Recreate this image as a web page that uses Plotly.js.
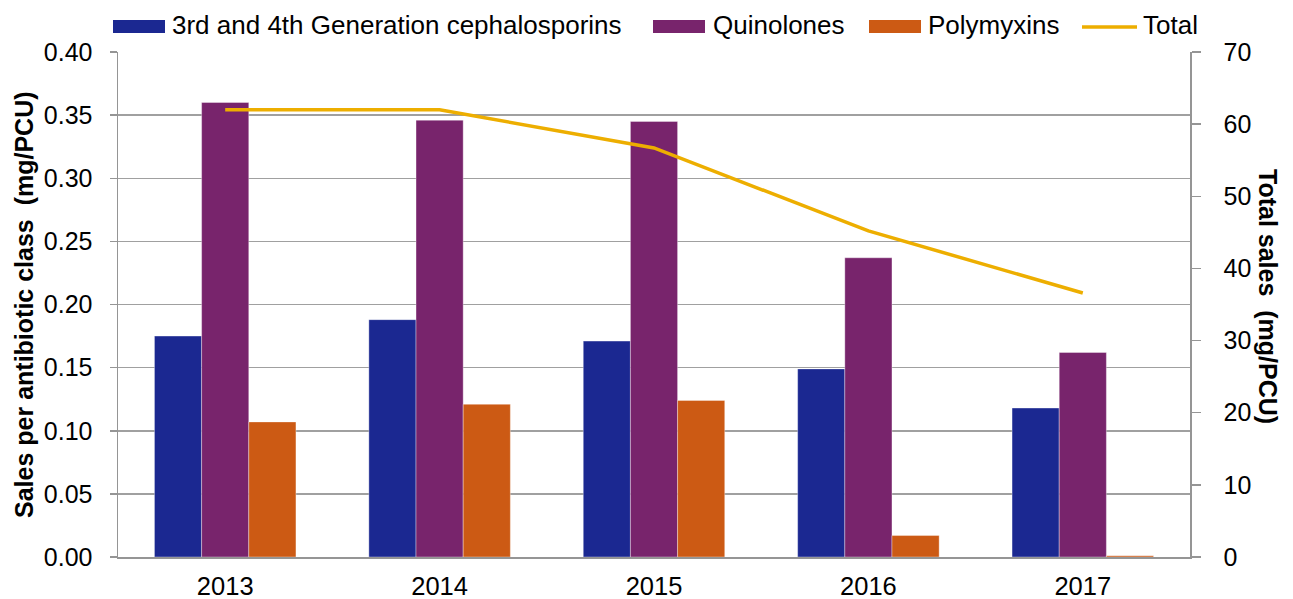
<!DOCTYPE html>
<html>
<head>
<meta charset="utf-8">
<script src="https://cdn.plot.ly/plotly-3.0.1.min.js"></script>
<style>html,body{margin:0;padding:0;background:#fff;}#chart{width:1293px;height:599px;}</style>
</head>
<body>
<div id="chart"></div>
<script>
const years = ['2013', '2014', '2015', '2016', '2017'];
const seriesNames = ['3rd and 4th Generation cephalosporins', 'Quinolones', 'Polymyxins', 'Total'];
const cephalosporins = [0.175, 0.188, 0.171, 0.149, 0.118];
const quinolones = [0.360, 0.346, 0.345, 0.237, 0.162];
const polymyxins = [0.107, 0.121, 0.124, 0.017, 0.001];
const total = [62.0, 62.0, 56.7, 45.2, 36.6];
const leftTicks = [0, 0.05, 0.10, 0.15, 0.20, 0.25, 0.30, 0.35, 0.40];
const rightTicks = [0, 10, 20, 30, 40, 50, 60, 70];
const colors = ['#1B2891', '#78246C', '#CC5A14', '#EDAE00'];

const FAM = '"Liberation Sans", Arial, sans-serif';
const font = {family: FAM, size: 26, color: '#000'};
const tickFontX = {family: FAM, size: 25.5, color: '#000'};
const tickFontY = {family: FAM, size: 25, color: '#000'};
const barLine = {color: 'rgba(255,255,255,0.6)', width: 0.6};
const axisGrey = '#959595';

// plot-area geometry in pixels (for legend placement)
const PL = 118, PR = 1190, PT = 52, PB = 557;
const px = v => (v - PL) / (PR - PL);
const py = v => (PB - v) / (PB - PT);

const traces = [
  {type: 'bar', name: seriesNames[0], x: years, y: cephalosporins, marker: {color: colors[0], line: barLine}},
  {type: 'bar', name: seriesNames[1], x: years, y: quinolones, marker: {color: colors[1], line: barLine}},
  {type: 'bar', name: seriesNames[2], x: years, y: polymyxins, marker: {color: colors[2], line: barLine}},
  {type: 'scatter', mode: 'lines', name: seriesNames[3], x: years, y: total, yaxis: 'y2',
   line: {color: colors[3], width: 3.5}}
];

// custom legend (long swatches like the original)
const legendItems = [
  {sx0: 113, sx1: 165, tx: 170, kind: 'rect'},
  {sx0: 653, sx1: 705, tx: 711, kind: 'rect'},
  {sx0: 869, sx1: 921, tx: 926, kind: 'rect'},
  {sx0: 1082, sx1: 1137, tx: 1141, kind: 'line'}
];
const shapes = [];
const annotations = [];
legendItems.forEach((it, i) => {
  if (it.kind === 'rect') {
    shapes.push({type: 'rect', xref: 'paper', yref: 'paper', x0: px(it.sx0), x1: px(it.sx1),
                 y0: py(33), y1: py(20), fillcolor: colors[i], line: {width: 0}});
  } else {
    shapes.push({type: 'line', xref: 'paper', yref: 'paper', x0: px(it.sx0), x1: px(it.sx1),
                 y0: py(27), y1: py(27), line: {color: colors[i], width: 3.5}});
  }
  annotations.push({text: seriesNames[i], xref: 'paper', yref: 'paper', x: px(it.tx), y: py(25),
                    xanchor: 'left', yanchor: 'middle', showarrow: false, font: font});
});
annotations.push({text: '<b>Sales per antibiotic class  (mg/PCU)</b>', xref: 'paper', yref: 'paper',
                  x: px(24), y: py(305), xanchor: 'center', yanchor: 'middle', textangle: -90,
                  showarrow: false, font: {family: FAM, size: 25, color: '#000'}});
annotations.push({text: '<b>Total sales  (mg/PCU)</b>', xref: 'paper', yref: 'paper',
                  x: px(1268), y: py(296), xanchor: 'center', yanchor: 'middle', textangle: 90,
                  showarrow: false, font: {family: FAM, size: 25, color: '#000'}});

const layout = {
  width: 1293, height: 599,
  margin: {l: PL, r: 1293 - PR, t: PT, b: 599 - PB},
  paper_bgcolor: '#fff', plot_bgcolor: '#fff',
  font: font,
  barmode: 'group', bargap: 0.34, bargroupgap: 0,
  showlegend: false,
  xaxis: {type: 'category', showline: true, linecolor: axisGrey, linewidth: 1.5,
          ticks: '', showgrid: false, tickfont: tickFontX, ticklabelstandoff: 6},
  yaxis: {range: [0, 0.40], tickvals: leftTicks, ticktext: leftTicks.map(v => v.toFixed(2)),
          showline: true, linecolor: axisGrey, linewidth: 1.5,
          ticks: 'outside', ticklen: 7, tickcolor: axisGrey, tickwidth: 1.5,
          showgrid: true, gridcolor: '#a0a0a0', gridwidth: 1.5, zeroline: false,
          tickfont: tickFontY, ticklabelstandoff: 12},
  yaxis2: {range: [0, 70], tickvals: rightTicks, overlaying: 'y', side: 'right',
           showline: true, linecolor: axisGrey, linewidth: 1.5,
           ticks: 'outside', ticklen: 9, tickcolor: axisGrey, tickwidth: 1.5,
           showgrid: false, zeroline: false, tickfont: tickFontY, ticklabelstandoff: 18},
  shapes: shapes,
  annotations: annotations
};

Plotly.newPlot('chart', traces, layout, {displayModeBar: false, staticPlot: true});
</script>
</body>
</html>
